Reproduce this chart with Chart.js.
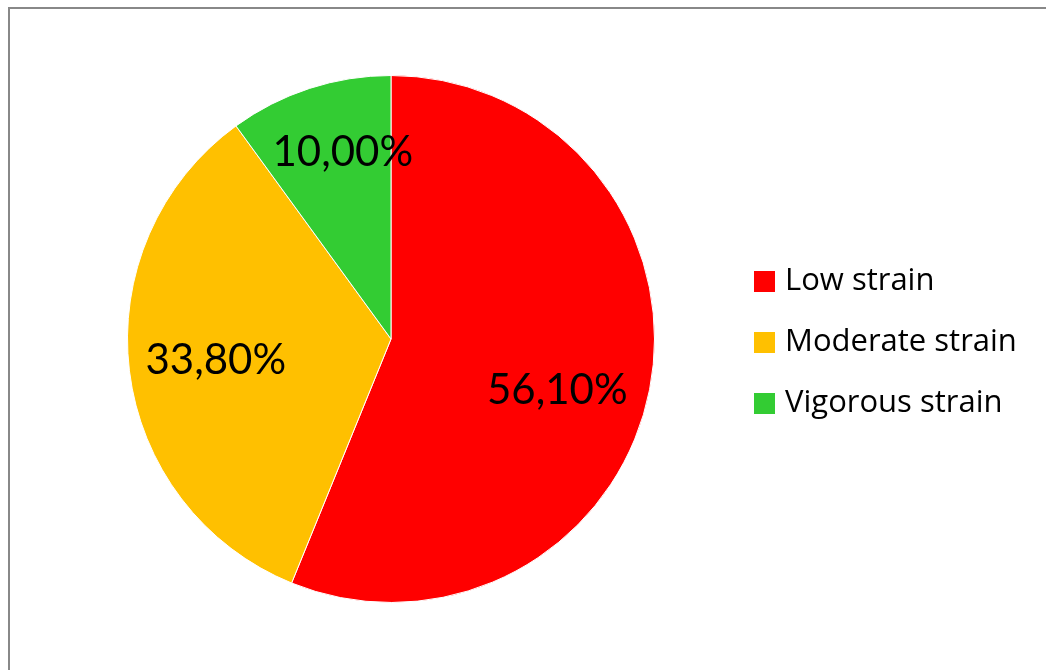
<!DOCTYPE html>
<html>
<head>
<meta charset="utf-8">
<script src="https://cdn.jsdelivr.net/npm/chart.js@4/dist/chart.umd.min.js"></script>
<style>
    html, body { margin: 0; padding: 0; background: #fff; }
    #wrap { position: relative; width: 1046px; height: 670px; overflow: hidden; }
    #frame { position: absolute; left: 8px; top: 7px; width: 1100px; height: 700px;
             border-left: 2px solid #888; border-top: 2px solid #888; }
    canvas { position: absolute; left: 0; top: 0; }
</style>
</head>
<body>
<div id="wrap">
    <div id="frame"></div>
    <canvas id="strainChart" width="1046" height="670"></canvas>
</div>
<script>
// Anteile in Prozent
const categories = ['Low strain', 'Moderate strain', 'Vigorous strain'];
const shares = [56.1, 33.8, 10.0];
const colors = ['#FF0000', '#FFC000', '#33CC33'];

const labelFont = 'Lato, "Open Sans", sans-serif';
const legendFont = '"Open Sans", "Noto Sans", sans-serif';

// Prozentwerte in die Tortenstücke schreiben (deutsches Komma)
const sliceLabels = {
    id: 'sliceLabels',
    afterDatasetsDraw(chart) {
        const ctx = chart.ctx;
        const meta = chart.getDatasetMeta(0);
        // Feinabstimmung wie bei Excel "beste Anpassung"
        const radiusFactor = [0.66, 0.67, 0.73];
        const angleShift = [6, 0, 3.5];
        ctx.save();
        ctx.font = '42px ' + labelFont;
        ctx.fillStyle = '#000';
        ctx.textAlign = 'center';
        ctx.textBaseline = 'middle';
        meta.data.forEach((arc, i) => {
            const p = arc.getProps(['x', 'y', 'startAngle', 'endAngle', 'outerRadius']);
            const mid = (p.startAngle + p.endAngle) / 2 + angleShift[i] * Math.PI / 180;
            const x = p.x + Math.cos(mid) * p.outerRadius * radiusFactor[i];
            const y = p.y + Math.sin(mid) * p.outerRadius * radiusFactor[i];
            ctx.fillText(shares[i].toFixed(2).replace('.', ',') + '%', x, y);
        });
        ctx.restore();
    }
};

// Legende rechts neben der Torte
const sideLegend = {
    id: 'sideLegend',
    afterDraw(chart) {
        const ctx = chart.ctx;
        ctx.save();
        ctx.font = '31px ' + legendFont;
        ctx.textBaseline = 'middle';
        categories.forEach((name, i) => {
            const cy = 281 + i * 61;
            ctx.fillStyle = colors[i];
            ctx.fillRect(754, cy - 10, 21, 21);
            ctx.fillStyle = '#000';
            ctx.fillText(name, 785, cy);
        });
        ctx.restore();
    }
};

new Chart('strainChart', {
    type: 'pie',
    data: {
        labels: categories,
        datasets: [{
            data: shares,
            backgroundColor: colors,
            borderColor: '#fff',
            borderWidth: 1
        }]
    },
    options: {
        responsive: false,
        animation: false,
        layout: {padding: {left: 127, right: 391, top: 75, bottom: 67}},
        plugins: {
            legend: {display: false},
            tooltip: {enabled: false}
        }
    },
    plugins: [sliceLabels, sideLegend]
});
</script>
</body>
</html>
